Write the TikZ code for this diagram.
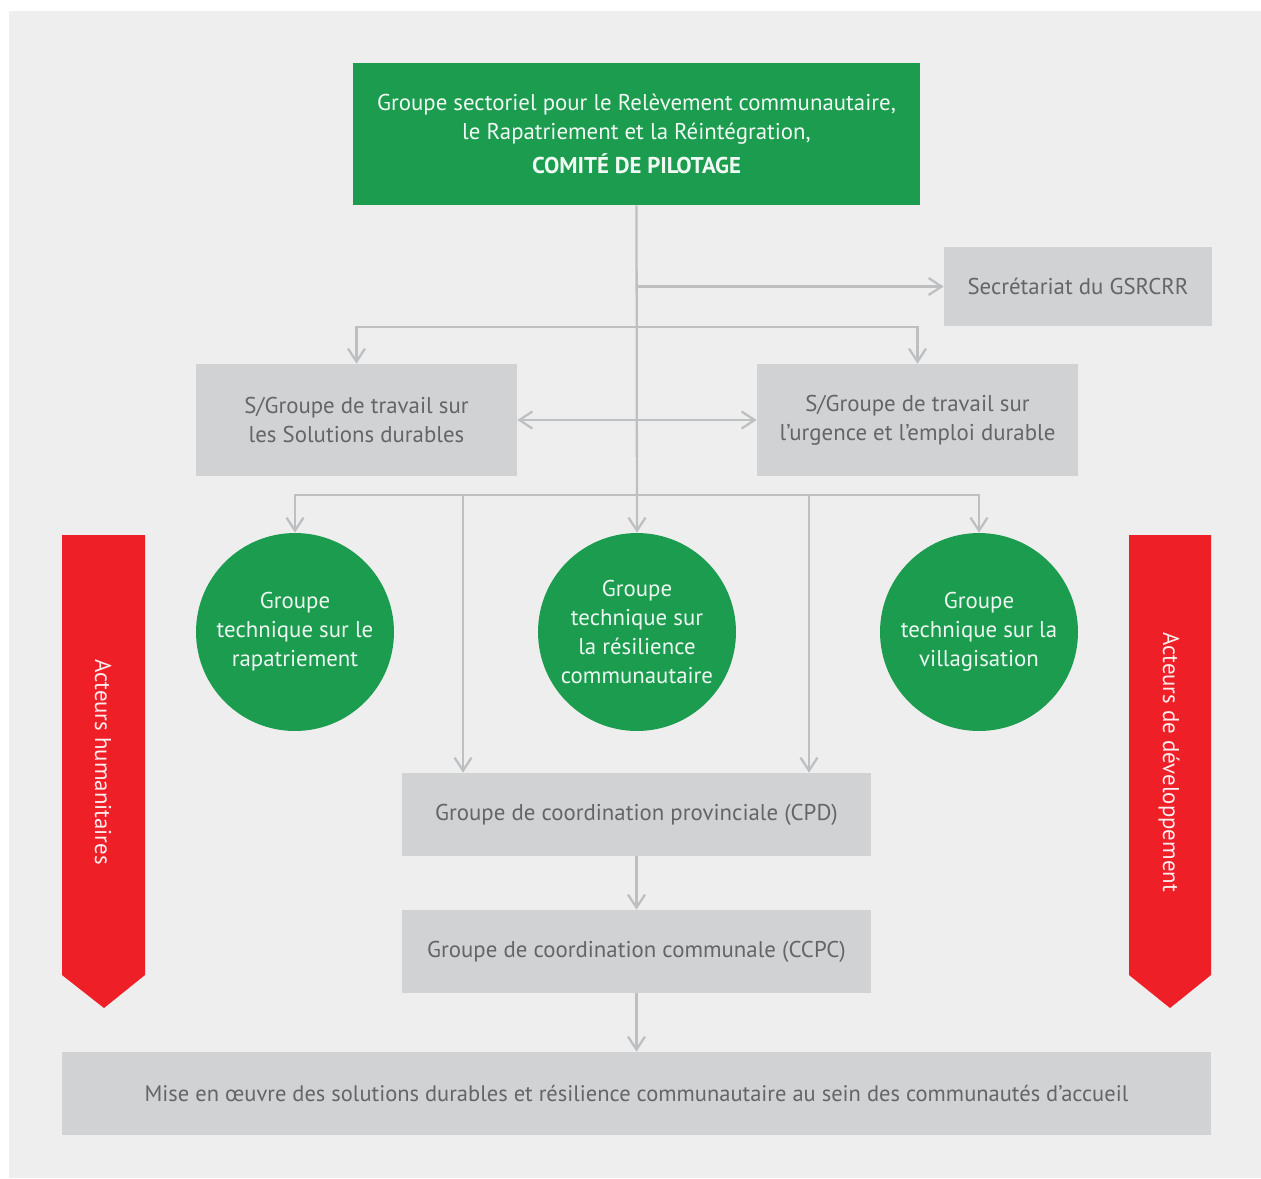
\documentclass[tikz,border=0pt]{standalone}
\usepackage{fontspec}
\setmainfont{PT Sans}
\usetikzlibrary{arrows.meta}

\definecolor{vert}{HTML}{1B9C4E}
\definecolor{rouge}{HTML}{EE1F27}
\definecolor{boite}{HTML}{D1D2D4}
\definecolor{fond}{HTML}{EEEEEE}
\definecolor{trait}{HTML}{BEBFC1}
\definecolor{texte}{HTML}{646567}

\tikzset{
  boitegrise/.style={fill=boite, text=texte, align=center, inner sep=0pt},
  rond/.style={circle, fill=vert, text=white!92!vert, align=center,
    minimum size=3.96cm, inner sep=0pt},
  fleche/.style={draw=trait, line width=1.3pt, ->},
  >={Straight Barb[length=0.26cm,width=0.34cm]}
}

\begin{document}
\begin{tikzpicture}[x=0.02cm, y=-0.02cm, font=\fontsize{13}{16.5}\selectfont]
\useasboundingbox (0,0) rectangle (1261,1178);
% Fond
\fill[fond] (9,11) rectangle (1261,1178);

% Comité de pilotage
\node[fill=vert, text=white!94!vert, align=center, minimum width=11.34cm,
  minimum height=2.84cm, inner sep=0pt] (pilot) at (636.5,134)
  {Groupe sectoriel pour le Relèvement communautaire,\\
   le Rapatriement et la Réintégration,\\[3pt]
   \textbf{COMITÉ DE PILOTAGE}};

% Secrétariat et sous-groupes
\node[boitegrise, minimum width=5.36cm, minimum height=1.58cm] (secr)
  at (1078,286.5) {Secrétariat du GSRCRR};
\node[boitegrise, minimum width=6.42cm, minimum height=2.24cm] (sgA)
  at (356.5,420) {S/Groupe de travail sur\\les Solutions durables};
\node[boitegrise, minimum width=6.42cm, minimum height=2.24cm] (sgB)
  at (917.5,420) {S/Groupe de travail sur\\l’urgence et l’emploi durable};

% Groupes techniques
\node[rond] (gtA) at (295,632) {Groupe\\technique sur le\\rapatriement};
\node[rond] (gtB) at (637,632) {Groupe\\technique sur\\la résilience\\communautaire};
\node[rond] (gtC) at (979,632) {Groupe\\technique sur la\\villagisation};

% Coordination
\node[boitegrise, minimum width=9.38cm, minimum height=1.66cm] (cpd)
  at (636.5,814.5) {Groupe de coordination provinciale (CPD)};
\node[boitegrise, minimum width=9.38cm, minimum height=1.66cm] (ccpc)
  at (636.5,951.5) {Groupe de coordination communale (CCPC)};
\node[boitegrise, minimum width=22.98cm, minimum height=1.66cm] (mise)
  at (636.5,1093.5) {\fontsize{12.8}{16.5}\selectfont Mise en œuvre des solutions durables et résilience communautaire au sein des communautés d’accueil};

% Flèches rouges
\fill[rouge] (62,535) -- (145,535) -- (145,975) -- (104,1008) -- (62,975) -- cycle;
\node[rotate=-90, text=white!92!rouge] (hum) at (103,762) {Acteurs humanitaires};
\fill[rouge] (1129,535) -- (1211,535) -- (1211,975) -- (1170,1008) -- (1129,975) -- cycle;
\node[rotate=-90, text=white!92!rouge] (dev) at (1169,762) {Acteurs de développement};

% Liaisons
\coordinate (b1) at (637,327);
\coordinate (b2) at (637,495);
\coordinate (dA) at (463,495);
\coordinate (dB) at (809,495);
\draw[fleche] (pilot.south) -- (gtB.north);
\draw[fleche] (pilot.south |- secr.west) -- (secr.west);
\draw[fleche] (b1) -| (sgA.north);
\draw[fleche] (b1) -| (sgB.north);
\draw[fleche, <->] (sgA.east) -- (sgB.west);
\draw[fleche] (b2) -| (gtA.north);
\draw[fleche] (b2) -| (gtC.north);
\draw[fleche] (dA) -- (dA |- cpd.north);
\draw[fleche] (dB) -- (dB |- cpd.north);
\draw[fleche] (cpd.south) -- (ccpc.north);
\draw[fleche] (ccpc.south) -- (mise.north);

\end{tikzpicture}
\end{document}
